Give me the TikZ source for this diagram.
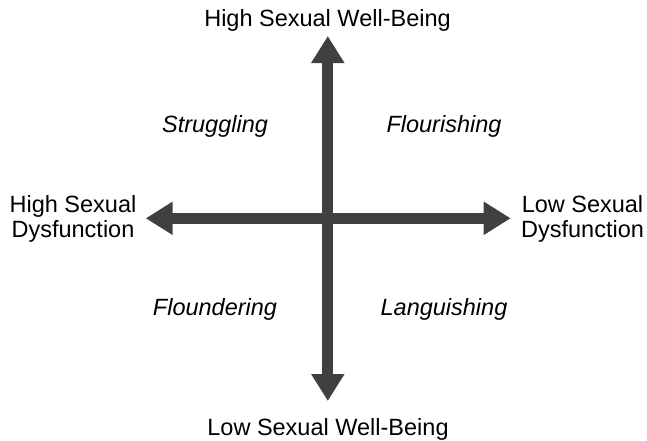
\documentclass[tikz,border=0pt]{standalone}
\usepackage{fontspec}
\setmainfont{Liberation Sans}
\usetikzlibrary{arrows.meta}
\definecolor{axisgray}{RGB}{64,64,64}
\begin{document}
\begin{tikzpicture}[x=1pt, y=-1pt, font=\fontsize{23.5}{25}\selectfont,
    axis/.style={axisgray, line width=11.3pt, {Triangle[length=27pt,width=31.5pt]}-{Triangle[length=27pt,width=31.5pt]}},
    quad/.style={anchor=base, font=\fontsize{23.5}{25}\selectfont\itshape}]
    \useasboundingbox (0,0) rectangle (647,440);
    \coordinate (west) at (145.7,218.3);
    \coordinate (east) at (510.7,218.3);
    \coordinate (north) at (327.8,36);
    \coordinate (south) at (327.8,401);
    \draw[axis] (west) -- (east);
    \draw[axis] (south) -- (north);
    \node[anchor=base] (hiwb) at (327.5,26) {High Sexual Well-Being};
    \node[anchor=base] (lowb) at (328,435) {Low Sexual Well-Being};
    \node[anchor=base, align=center] (hidys) at (73,237.3) {High Sexual\\Dysfunction};
    \node[anchor=base, align=center] (lodys) at (582.5,237.3) {Low Sexual\\Dysfunction};
    \node[quad] (strug) at (215,132) {Struggling};
    \node[quad] (flour) at (444,132) {Flourishing};
    \node[quad] (floun) at (215,315) {Floundering};
    \node[quad] (lang) at (444,315) {Languishing};
\end{tikzpicture}
\end{document}
